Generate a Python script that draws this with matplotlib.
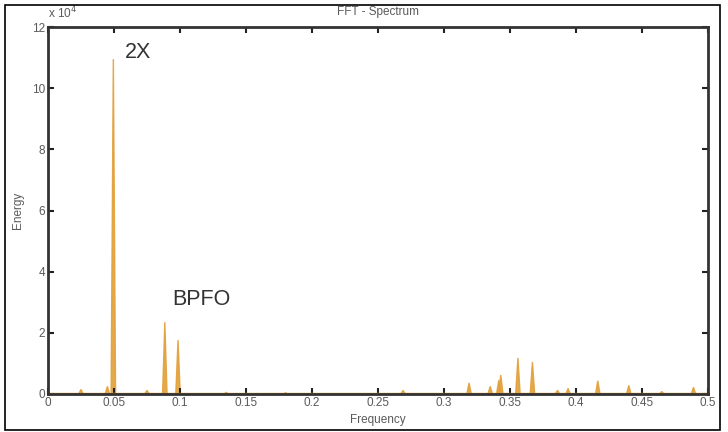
import numpy as np
import matplotlib.pyplot as plt
from matplotlib.patches import Rectangle

plt.rcParams['font.family'] = ['Liberation Sans', 'DejaVu Sans']

# peak frequencies and energies (x 10^4)
peak_freq = [0.025, 0.045, 0.0495, 0.075, 0.0885, 0.0985, 0.135, 0.18, 0.269,
             0.319, 0.335, 0.3415, 0.343, 0.356, 0.367, 0.386, 0.394,
             0.4165, 0.44, 0.465, 0.489]
peak_energy = [0.15, 0.25, 10.95, 0.12, 2.35, 1.76, 0.05, 0.04, 0.12,
               0.36, 0.25, 0.45, 0.62, 1.18, 1.05, 0.12, 0.18,
               0.43, 0.28, 0.08, 0.22]

x_ticks = np.arange(0, 0.501, 0.05)
x_tick_labels = ['0', '0.05', '0.1', '0.15', '0.2', '0.25', '0.3', '0.35', '0.4', '0.45', '0.5']
y_ticks = [0, 2, 4, 6, 8, 10, 12]

line_color = '#E3A03A'
axis_color = '#333333'
text_color = '#5a5a5a'

fig = plt.figure(figsize=(7.28, 4.32), dpi=100)
ax = fig.add_axes([48 / 728, 1 - 394 / 432, (708 - 48) / 728, (394 - 27) / 432])

half_w = 0.0017
for f, e in zip(peak_freq, peak_energy):
    ax.fill([f - half_w, f, f + half_w], [0, e, 0], color=line_color, lw=1,
            alpha=0.9)
ax.plot([0, 0.5], [0.03, 0.03], color=line_color, lw=1)

ax.set_xlim(0, 0.5)
ax.set_ylim(0, 12)
ax.set_xticks(x_ticks)
ax.set_xticklabels(x_tick_labels)
ax.set_yticks(y_ticks)
ax.tick_params(direction='in', length=4, width=1.5, color='#222222',
               top=True, right=True, labelsize=8.5, labelcolor=text_color, pad=2)
for s in ax.spines.values():
    s.set_linewidth(2)
    s.set_color(axis_color)

ax.set_title('FFT - Spectrum', fontsize=8.5, color=text_color, pad=9)
ax.set_xlabel('Frequency', fontsize=8.5, color=text_color, labelpad=4)
ax.set_ylabel('Energy', fontsize=8.5, color=text_color, labelpad=6)
ax.text(0.0, 12.2, r'x 10$^{4}$', fontsize=8.5, color=text_color, ha='left', va='bottom')

ax.text(0.058, 11.18, '2X', fontsize=15.5, color='#333333', ha='left', va='center')
ax.text(0.0945, 3.1, 'BPFO', fontsize=15.5, color='#333333', ha='left', va='center')

# frame around the whole picture
fig.patches.append(Rectangle((5 / 728, 2 / 432), 715 / 728, 425 / 432,
                             transform=fig.transFigure, fill=False,
                             edgecolor='black', lw=1.2))

fig.savefig('out.png', dpi=100)
